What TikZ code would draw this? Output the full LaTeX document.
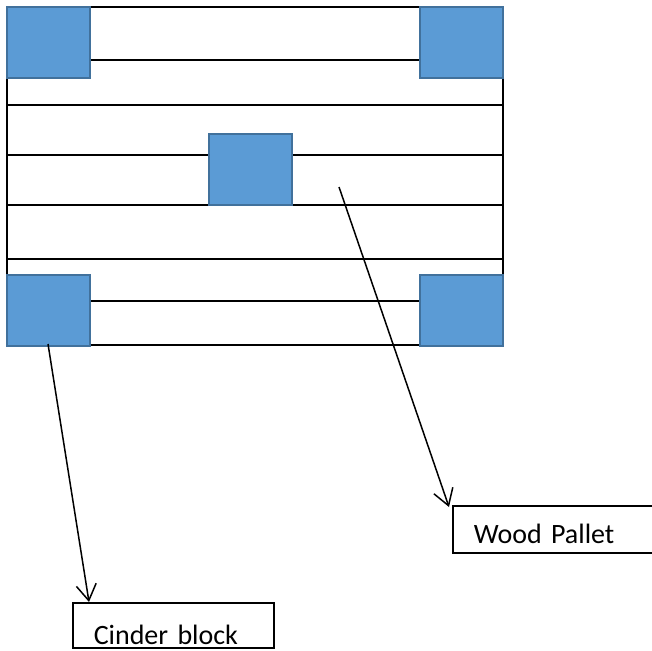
\documentclass[tikz,border=0pt]{standalone}
\usepackage{fontspec}
\setmainfont{Carlito}
\usetikzlibrary{arrows.meta}
\definecolor{blockblue}{HTML}{5B9BD5}
\definecolor{blockedge}{HTML}{41719C}
\begin{document}
\begin{tikzpicture}[x=1pt,y=-1pt,
    block/.style={rectangle,draw=blockedge,fill=blockblue,line width=2pt,minimum width=83pt,minimum height=71pt,inner sep=0pt},
    labelbox/.style={rectangle,draw,line width=1.5pt,anchor=west,inner xsep=21pt,inner ysep=0pt,text depth=0pt,align=left,font=\fontsize{28}{30}\selectfont},
    board/.style={line width=1.5pt},
    pointer/.style={line width=1.5pt,-{Straight Barb[length=16pt,width=20pt,line width=1.5pt]}}]
        \clip (0,0) rectangle (652,650);

        % pallet frame and boards
        \draw[line width=2pt] (7,7) rectangle (503,345);
        \draw[board] (90,60) -- (420,60);
        \draw[board] (7,105) -- (503,105);
        \draw[board] (7,155) -- (503,155);
        \draw[board] (7,205) -- (503,205);
        \draw[board] (7,259) -- (503,259);
        \draw[board] (90,301) -- (420,301);

        % cinder blocks
        \node[block] at (48.5,42.5) (tl) {};
        \node[block] at (461.5,42.5) (tr) {};
        \node[block] at (250,169.5) (mid) {};
        \node[block] at (48.5,310.5) (bl) {};
        \node[block] at (461.5,310.5) (br) {};

        % labels
        \node[labelbox,text width=159pt,text height=38pt,minimum height=45pt] at (72,625.5) (cinder) {Cinder block};
        \node[labelbox,text width=188pt,text height=27pt,minimum height=47pt] at (452,529.5) (pallet) {Wood Pallet};

        \coordinate (cinderfrom) at (48,344);
        \coordinate (cinderto) at (89,602);
        \coordinate (palletfrom) at (339,187);
        \coordinate (palletto) at (449,507);

        \path[pointer]
            (cinderfrom) edge (cinderto)
            (palletfrom) edge (palletto)
            ;
    \end{tikzpicture}
\end{document}
